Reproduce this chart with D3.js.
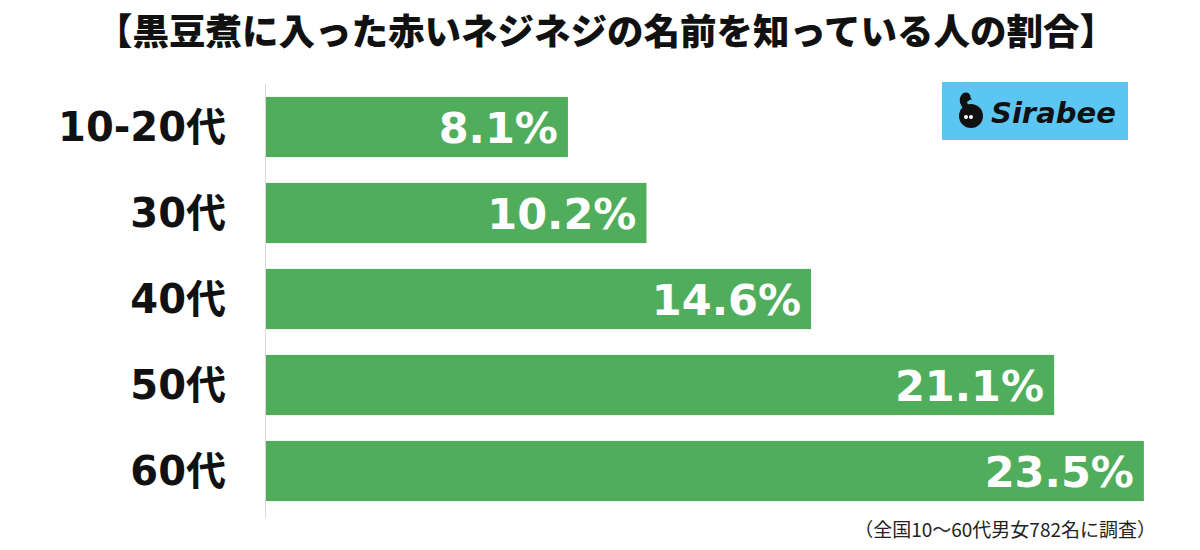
<!DOCTYPE html>
<html><head><meta charset="utf-8">
<script src="https://cdn.jsdelivr.net/npm/d3@7"></script>
<style>body{margin:0;background:#fff}svg{display:block}</style>
</head><body>
<script>
const title = "【黒豆煮に入った赤いネジネジの名前を知っている人の割合】";
const categories = ["10-20代","30代","40代","50代","60代"];
const values = [8.1, 10.2, 14.6, 21.1, 23.5];
const note = "（全国10～60代男女782名に調査）";

const W = 1200, H = 550;
const svg = d3.select("body").append("svg").attr("width", W).attr("height", H);

const x = d3.scaleLinear().domain([0, 25]).range([265, 1200]);
const y = d3.scaleBand().domain(categories).range([84, 514]).paddingInner(0.3).paddingOuter(0.15);

svg.append("text").attr("x", 606).attr("y", 45).attr("text-anchor", "middle")
  .attr("font-family", "'Noto Sans CJK JP'").attr("font-weight", 900).attr("font-size", 36.5)
  .attr("fill", "#111").text(title);

// axis line
svg.append("line").attr("x1", x(0)+0.5).attr("x2", x(0)+0.5).attr("y1", 84).attr("y2", 518)
  .attr("stroke", "#d8d8d8").attr("stroke-width", 1);

svg.selectAll("rect.bar").data(values).join("rect").attr("class", "bar")
  .attr("x", x(0)+1).attr("y", (d, i) => y(categories[i]))
  .attr("width", d => x(d) - x(0) - 1).attr("height", y.bandwidth())
  .attr("fill", "#50ad5c");

svg.selectAll("text.val").data(values).join("text").attr("class", "val")
  .attr("x", d => x(d) - 10).attr("y", (d, i) => y(categories[i]) + y.bandwidth()/2 + 15.5)
  .attr("text-anchor", "end").attr("font-family", "'DejaVu Sans'").attr("font-weight", "bold")
  .attr("font-size", 43).attr("fill", "#fff").text(d => d.toFixed(1) + "%");

const yAxis = d3.axisLeft(y).tickSize(0).tickPadding(0);
const ga = svg.append("g").attr("transform", `translate(226,0)`).call(yAxis);
ga.select(".domain").remove();
ga.selectAll("text").attr("font-family", "'DejaVu Sans','Noto Sans CJK JP'").attr("font-weight", "bold")
  .attr("font-size", 40).attr("fill", "#111").attr("dy", "0.36em");

svg.append("text").attr("x", 1156).attr("y", 537).attr("text-anchor", "end")
  .attr("font-family", "'Noto Sans CJK JP'").attr("font-size", 19).attr("fill", "#222").text(note);

// logo
const lg = svg.append("g");
lg.append("rect").attr("x", 942).attr("y", 82).attr("width", 186).attr("height", 58).attr("fill", "#5bc6f2");
lg.append("circle").attr("cx", 971).attr("cy", 116).attr("r", 12).attr("fill", "#111");
lg.append("path").attr("d", "M963,108 C956,100 962,90 968,94 L972,100 C966,99 966,104 970,106 Z").attr("fill", "#111");
lg.append("circle").attr("cx", 966).attr("cy", 97).attr("r", 4.5).attr("fill", "#111");
lg.append("circle").attr("cx", 966).attr("cy", 117).attr("r", 2).attr("fill", "#fff");
lg.append("circle").attr("cx", 971).attr("cy", 117).attr("r", 2).attr("fill", "#fff");
lg.append("text").attr("x", 991).attr("y", 123).attr("font-family", "'DejaVu Sans'").attr("font-weight", "bold")
  .attr("font-style", "italic").attr("font-size", 29).attr("fill", "#111").text("Sirabee");
</script>
</body></html>
